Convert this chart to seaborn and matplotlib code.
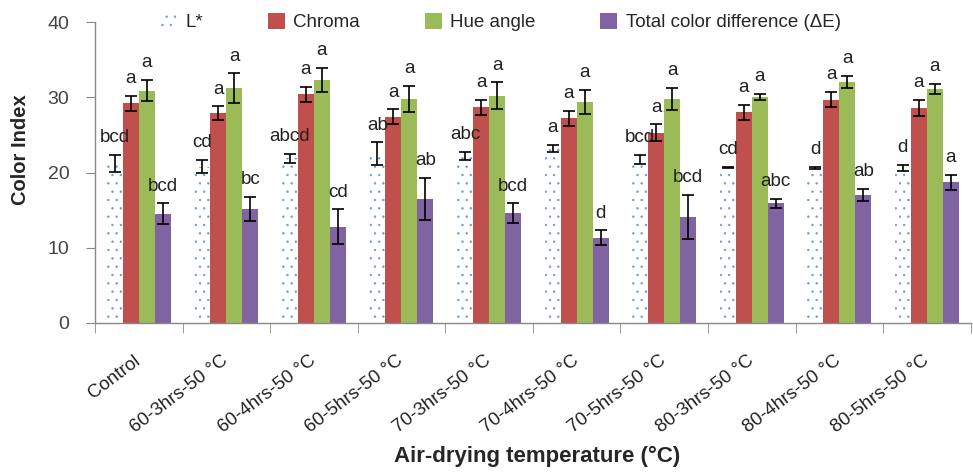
import numpy as np
import pandas as pd
import matplotlib
matplotlib.use("Agg")
import matplotlib.pyplot as plt
from matplotlib.patches import Patch
import seaborn as sns

treatments = ["Control", "60-3hrs-50 °C", "60-4hrs-50 °C", "60-5hrs-50 °C", "70-3hrs-50 °C",
              "70-4hrs-50 °C", "70-5hrs-50 °C", "80-3hrs-50 °C", "80-4hrs-50 °C", "80-5hrs-50 °C"]
attributes = ["L*", "Chroma", "Hue angle", "Total color difference (ΔE)"]

l_star = [21.2, 20.8, 21.9, 22.5, 22.2, 23.2, 21.7, 20.7, 20.6, 20.6]
l_star_err = [1.1, 0.9, 0.6, 1.5, 0.5, 0.5, 0.6, 0.05, 0.1, 0.4]
chroma = [29.2, 27.9, 30.4, 27.4, 28.7, 27.2, 25.3, 28.0, 29.7, 28.6]
chroma_err = [1.0, 0.9, 1.0, 1.0, 1.0, 1.0, 1.1, 1.0, 1.0, 1.1]
hue_angle = [30.9, 31.2, 32.3, 29.8, 30.2, 29.4, 29.8, 30.1, 32.1, 31.1]
hue_err = [1.4, 2.0, 1.6, 1.7, 1.8, 1.6, 1.5, 0.4, 0.8, 0.7]
delta_e = [14.5, 15.2, 12.8, 16.5, 14.6, 11.3, 14.1, 15.9, 17.0, 18.7]
delta_e_err = [1.4, 1.6, 2.3, 2.8, 1.3, 1.0, 2.9, 0.6, 0.8, 1.0]

letters_l = ["bcd", "cd", "abcd", "ab", "abc", "a", "bcd", "cd", "d", "d"]
letters_chroma = ["a"] * 10
letters_hue = ["a"] * 10
letters_de = ["bcd", "bc", "cd", "ab", "bcd", "d", "bcd", "abc", "ab", "a"]

colors = ["#FFFFFF", "#C0504D", "#9BBB59", "#8064A2"]
dot_blue = "#6F9BD8"

df = pd.DataFrame({
    "treatment": treatments * 4,
    "attribute": np.repeat(attributes, len(treatments)),
    "value": l_star + chroma + hue_angle + delta_e,
})
errs = [l_star_err, chroma_err, hue_err, delta_e_err]
letters = [letters_l, letters_chroma, letters_hue, letters_de]

sns.set_style("white")
plt.rcParams["font.family"] = ["Liberation Sans", "DejaVu Sans"]
plt.rcParams["hatch.linewidth"] = 0.5

fig = plt.figure(figsize=(9.73, 4.72), dpi=100)
ax = fig.add_axes([0.0976, 0.316, 0.9, 0.637])

sns.barplot(data=df, x="treatment", y="value", hue="attribute", hue_order=attributes,
            palette=colors, width=0.73, errorbar=None, saturation=1, legend=False, ax=ax)

bar_groups = list(ax.containers)
for i, cont in enumerate(bar_groups):
    xs = [b.get_x() + b.get_width() / 2 for b in cont]
    tops = [b.get_height() for b in cont]
    for b in cont:
        b.set_linewidth(0)
        if i == 0:
            b.set_hatch("..")
            b.set_edgecolor(dot_blue)
    ax.errorbar(xs, tops, yerr=errs[i], fmt="none", ecolor="black", elinewidth=1.2,
                capsize=4, capthick=1.2, zorder=5)
    for x, t, e, s in zip(xs, tops, errs[i], letters[i]):
        ax.text(x, t + e + 2.3, s, ha="center", va="center", fontsize=13.5, color="#222222")

ax.set_ylim(0, 40)
ax.set_xlim(-0.5, 9.5)
ax.set_yticks([0, 10, 20, 30, 40])
ax.set_xticks(np.arange(-0.5, 10, 1), minor=True)
ax.tick_params(axis="y", length=6.5, color="#888888", labelsize=14, labelcolor="#444444", pad=12, left=True)
ax.tick_params(axis="x", which="major", length=0, pad=26, labelsize=13.5, labelcolor="#222222")
ax.tick_params(axis="x", which="minor", length=7, color="#888888", bottom=True)
plt.setp(ax.get_xticklabels(), rotation=37, ha="right", va="center", rotation_mode="anchor")

for side in ["top", "right"]:
    ax.spines[side].set_visible(False)
for side in ["left", "bottom"]:
    ax.spines[side].set_color("#888888")
    ax.spines[side].set_linewidth(1.0)

ax.set_ylabel("Color Index", fontsize=14.5, fontweight="bold")
ax.yaxis.set_label_coords(-0.074, 0.575)
ax.set_xlabel("Air-drying temperature (°C)", fontsize=16, fontweight="bold")
ax.xaxis.set_label_coords(0.505, -0.41)

handles = [Patch(facecolor="white", edgecolor=dot_blue, hatch="..", linewidth=0),
           Patch(facecolor=colors[1], linewidth=0),
           Patch(facecolor=colors[2], linewidth=0),
           Patch(facecolor=colors[3], linewidth=0)]
ax.legend(handles, attributes, ncol=4, loc="center", bbox_to_anchor=(0.463, 1.0),
          frameon=False, fontsize=13.5, handlelength=0.9, handleheight=0.9,
          handletextpad=0.45, columnspacing=3.45)

fig.savefig("out.png", dpi=100)
